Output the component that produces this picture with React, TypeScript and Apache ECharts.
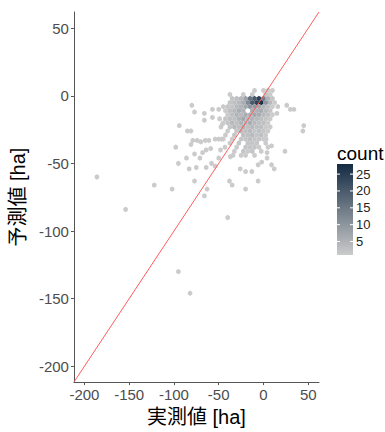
import React, { useEffect, useRef } from "react";
import * as echarts from "echarts";

const axisMin = -211.7;
const axisMax = 62;
const tickValues = [-200, -150, -100, -50, 0, 50];
const hexWidth = 5;
const hexRow = 3;

// dense core, row by row (y value, x centres, counts)
const coreRowY = [4, 1, -2, -5, -8, -11, -14, -17, -20, -23, -26, -29, -32, -35, -38, -41, -44];
const coreRowX = [
  [-10, 0, 5, 10],
  [-37.5, -22.5, -12.5, 2.5, 7.5],
  [-35, -30, -25, -20, -15, -10, -5, 0, 5, 10],
  [-37.5, -32.5, -27.5, -22.5, -17.5, -12.5, -7.5, -2.5, 2.5, 7.5, 12.5],
  [-45, -40, -35, -30, -25, -20, -15, -10, -5, 0, 5, 10],
  [-42.5, -37.5, -32.5, -27.5, -22.5, -12.5, -7.5, -2.5, 2.5, 7.5],
  [-40, -35, -30, -25, -20, -15, -10, -5, 0, 5, 10],
  [-42.5, -37.5, -32.5, -27.5, -22.5, -17.5, -12.5, -7.5, -2.5, 2.5, 7.5],
  [-45, -40, -35, -30, -25, -20, -15, -10, -5, 0, 5],
  [-47.5, -37.5, -32.5, -27.5, -22.5, -17.5, -12.5, -7.5, -2.5, 2.5, 7.5],
  [-40, -30, -25, -20, -15, -10, -5, 0, 5],
  [-42.5, -32.5, -22.5, -17.5, -12.5, -7.5, -2.5, 2.5],
  [-45, -35, -25, -20, -15, -10, -5, 0],
  [-37.5, -27.5, -17.5, -12.5, -7.5, 2.5],
  [-30, -20, -15, -10, -5, 5],
  [-32.5, -22.5, -17.5, -12.5, -2.5],
  [-25, -20, -10],
];
const coreRowCount = [
  [1, 1, 1, 1],
  [1, 1, 1, 2, 1],
  [2, 3, 4, 8, 16, 20, 24, 14, 5, 2],
  [2, 3, 4, 6, 12, 20, 24, 27, 10, 4, 1],
  [1, 2, 2, 4, 5, 7, 10, 9, 7, 5, 3, 1],
  [1, 3, 4, 6, 5, 6, 5, 6, 4, 2],
  [1, 3, 5, 4, 6, 5, 7, 6, 4, 3, 1],
  [2, 3, 3, 5, 7, 4, 5, 4, 3, 2, 1],
  [1, 2, 4, 3, 5, 4, 6, 4, 3, 3, 1],
  [1, 2, 4, 3, 5, 3, 4, 3, 3, 1, 1],
  [1, 2, 4, 3, 4, 2, 3, 2, 1],
  [1, 2, 3, 3, 4, 2, 3, 1],
  [1, 1, 2, 2, 3, 2, 2, 1],
  [1, 2, 2, 2, 2, 1],
  [1, 2, 2, 2, 1, 1],
  [1, 2, 1, 2, 1],
  [1, 1, 1],
];

// scattered cells outside the core
const looseX = [
  -80, -77, -66, -66, -57, -50, -57, -49, -46,
  -94, -85, -81, -98, -81, -79, -74, -70, -65, -61, -54, -50, -47,
  -77, -68, -64, -59, -48, -43,
  -95, -86, -83, -75, -71, -64, -58, -54, -50, -37, -34,
  -26, -20, -13, -6, -2, 4, 9, 12,
  -77, -63, -38, -35, -20, -6, -66, -40,
  9, 4, 3, 24, 45, 44, 16, 26, 30, 34, 15,
  -186, -154, -122, -102, -95, -82,
];
const looseY = [
  -7, -12, -13, -18, -10, -10, -16, -17, -21,
  -22, -26, -26, -38, -36, -33, -33, -34, -33, -33, -32, -32, -32,
  -43, -42, -40, -39, -40, -38,
  -50, -46, -54, -53, -46, -53, -50, -52, -46, -45, -44,
  -54, -56, -56, -51, -49, -46, -51, -54,
  -63, -69, -63, -66, -69, -63, -74, -90,
  -37, -42, -32, -41, -22, -26, -8, -7, -10, -10, -13,
  -60, -84, -66, -69, -130, -146,
];
const looseCount = looseX.map(() => 1);

const countMin = 1;
const countMax = 28;
const legendTicks = [5, 10, 15, 20, 25];
const lowColor = "#cbcbcb";
const highColor = "#132B43";

const FONT = "'Liberation Sans', 'Noto Sans CJK JP', sans-serif";

export default function App() {
  const ref = useRef<HTMLDivElement>(null);
  useEffect(() => {
    if (!ref.current) return;
    const chart = echarts.init(ref.current, undefined, { renderer: "svg" });

    const hexData: number[][] = [];
    coreRowY.forEach((y, i) => {
      coreRowX[i].forEach((x, j) => hexData.push([x, y, coreRowCount[i][j]]));
    });
    looseX.forEach((x, i) => hexData.push([x, looseY[i], looseCount[i]]));

    const barTop = 164;
    const barH = 91;
    const barLeft = 337;
    const barW = 16;
    const legendGraphics: any[] = [
      {
        type: "text",
        x: barLeft,
        y: 163,
        style: { text: "count", fontSize: 19, fill: "#000", fontFamily: FONT, verticalAlign: "bottom", textVerticalAlign: "bottom" },
      },
      {
        type: "rect",
        shape: { x: barLeft, y: barTop, width: barW, height: barH },
        style: {
          fill: {
            type: "linear",
            x: 0, y: 0, x2: 0, y2: 1,
            colorStops: [
              { offset: 0, color: highColor },
              { offset: 1, color: lowColor },
            ],
          },
        },
      },
    ];
    legendTicks.forEach((v) => {
      const y = barTop + ((countMax - v) / (countMax - countMin)) * barH;
      legendGraphics.push(
        { type: "line", shape: { x1: barLeft, y1: y, x2: barLeft + 3, y2: y }, style: { stroke: "#fff", lineWidth: 1 } },
        { type: "line", shape: { x1: barLeft + barW - 3, y1: y, x2: barLeft + barW, y2: y }, style: { stroke: "#fff", lineWidth: 1 } },
        {
          type: "text",
          x: barLeft + barW + 3,
          y,
          style: { text: String(v), fontSize: 13, fill: "#222", fontFamily: FONT, textVerticalAlign: "middle", verticalAlign: "middle" },
        }
      );
    });

    const axisCommon = {
      type: "value" as const,
      min: axisMin,
      max: axisMax,
      splitLine: { show: false },
      axisLine: { show: true, onZero: false, lineStyle: { color: "#555", width: 1 } },
      axisTick: { show: true, length: 3, lineStyle: { color: "#555" }, customValues: tickValues },
      axisLabel: { fontSize: 15, color: "#4d4d4d", fontFamily: FONT, customValues: tickValues },
      nameLocation: "middle" as const,
      nameTextStyle: { fontSize: 20, color: "#000", fontFamily: FONT },
    };

    chart.setOption({
      animation: false,
      grid: { left: 68, right: 66, top: 12, bottom: 46, containLabel: false },
      xAxis: { ...axisCommon, name: "実測値 [ha]", nameGap: 22, axisLabel: { ...axisCommon.axisLabel, margin: 5 } },
      yAxis: { ...axisCommon, name: "予測値 [ha]", nameGap: 38, nameRotate: 90, axisLabel: { ...axisCommon.axisLabel, margin: 5 } },
      visualMap: {
        show: false,
        type: "continuous",
        min: countMin,
        max: countMax,
        dimension: 2,
        seriesIndex: 0,
        inRange: { color: [lowColor, highColor] },
      },
      series: [
        {
          type: "custom",
          data: hexData,
          encode: { x: 0, y: 1 },
          renderItem: (params: any, api: any) => {
            const c = api.coord([api.value(0), api.value(1)]);
            const s = api.size([hexWidth, hexRow]);
            const w = s[0] / 2;
            const h = s[1] / 0.75 / 2;
            return {
              type: "polygon",
              shape: {
                points: [
                  [c[0], c[1] - h],
                  [c[0] + w, c[1] - h / 2],
                  [c[0] + w, c[1] + h / 2],
                  [c[0], c[1] + h],
                  [c[0] - w, c[1] + h / 2],
                  [c[0] - w, c[1] - h / 2],
                ],
              },
              style: { fill: api.visual("color"), stroke: null },
            };
          },
        },
        {
          type: "line",
          data: [
            [axisMin, axisMin],
            [axisMax, axisMax],
          ],
          symbol: "none",
          lineStyle: { color: "#ff5c5c", width: 1 },
          z: 5,
        },
      ],
      graphic: legendGraphics,
    });
    return () => chart.dispose();
  }, []);
  return <div ref={ref} style={{ position: "absolute", left: 0, top: 0, width: 385, height: 432 }} />;
}
